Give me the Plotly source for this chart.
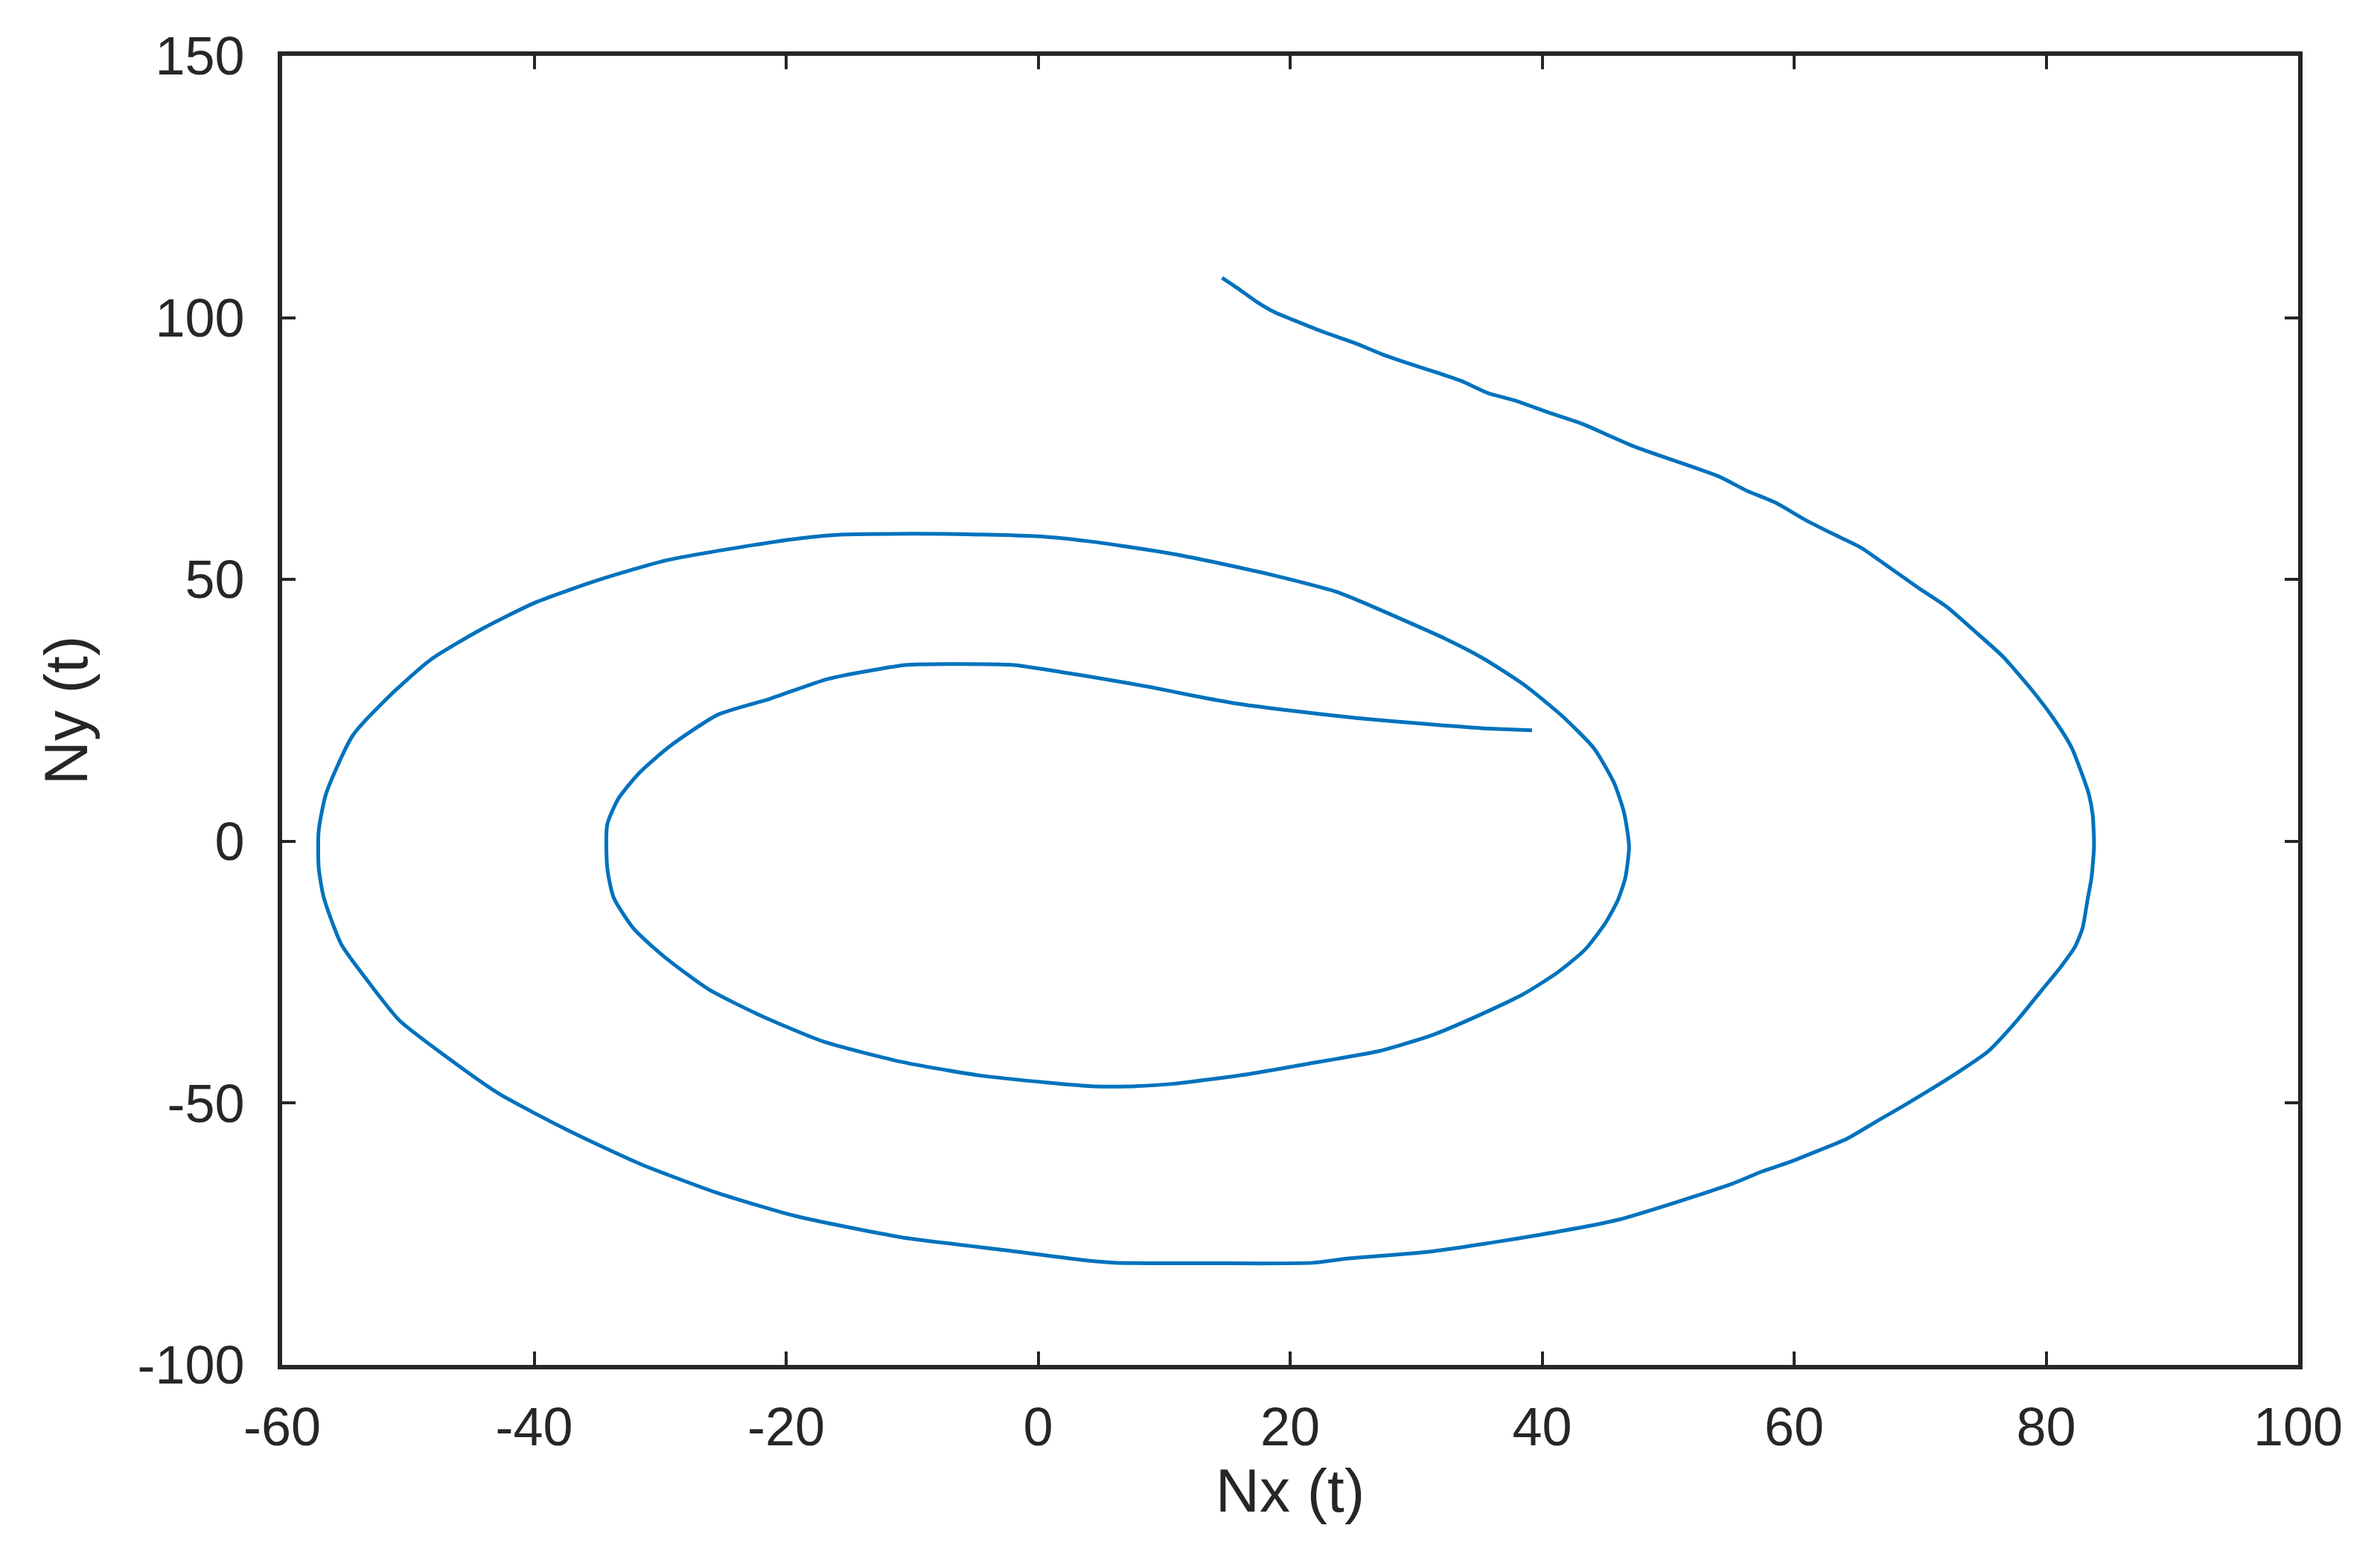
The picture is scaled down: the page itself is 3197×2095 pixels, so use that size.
import plotly.graph_objects as go

# Trajectory points (Nx(t), Ny(t)), in drawing order
nx = [14.6, 15.9, 17.3, 18.8, 20.2, 22.5, 25.2, 27.3, 29.1, 31.8, 33.6, 35.7, 37.8, 40.5, 43.1, 47.3,
      54.0, 56.2, 58.5, 60.8, 63.0, 65.3, 67.5, 69.8, 72.1, 74.3, 76.6, 78.9, 80.6, 82.0, 82.9, 83.4,
      83.7, 83.8, 83.6, 83.3, 82.9, 82.3, 81.1, 79.7, 77.7, 75.4, 73.2, 70.9, 68.7, 66.4, 64.2, 61.9,
      59.6, 57.4, 55.1, 46.0, 39.2, 31.3, 24.5, 21.8, 14.0, 6.3, 4.0,
      -2.6, -10.9, -19.2, -25.4, -31.6, -37.4, -42.8, -47.0, -50.7, -53.2, -55.3, -56.7, -57.1, -57.1,
      -56.5, -54.4, -51.5, -48.2, -44.1, -39.9, -34.9, -29.6, -23.3, -18.8, -15.4, -7.5, 0.3, 4.0,
      6.7, 10.4, 13.8, 17.8, 20.2, 23.6, 25.2, 32.3, 35.2, 38.5, 41.6, 44.1, 45.7, 46.5, 46.9, 46.6,
      46.0, 45.0, 43.4, 41.2, 38.5, 35.2, 31.4, 27.0, 22.1, 16.6, 10.8, 7.3, 4.5, 0.8, -4.7, -10.9,
      -17.1, -22.1, -26.2, -29.6, -32.1, -33.7, -34.2, -34.2, -33.3, -31.6, -29.2, -25.4, -21.3, -16.7,
      -12.6, -10.3, -2.2, 1.9, 5.7, 9.0, 12.3, 15.5, 19.9, 25.4, 30.8, 35.2, 39.2]
ny = [107.6, 105.5, 103.1, 101.0, 99.6, 97.4, 95.1, 93.0, 91.5, 89.4, 87.9, 85.6, 84.2, 81.9, 79.8, 75.4,
      69.7, 67.0, 64.7, 61.5, 58.8, 56.1, 52.4, 48.5, 44.8, 40.2, 35.2, 28.8, 23.4, 18.0, 12.5, 8.9,
      5.0, -1.0, -7.0, -11.0, -16.5, -20.1, -24.2, -28.3, -34.2, -40.1, -43.8, -47.3, -50.5, -53.7, -56.8, -59.1,
      -61.3, -63.1, -65.4, -72.3, -75.4, -78.3, -79.7, -80.5, -80.6, -80.5, -80.1,
      -78.1, -75.6, -71.6, -67.2, -61.6, -55.1, -48.2, -41.1, -34.2, -26.7, -19.7, -10.7, -5.0, 2.0,
      9.2, 20.2, 27.7, 34.7, 40.6, 45.6, 49.9, 53.6, 56.3, 57.9, 58.6, 58.7, 58.2, 57.3,
      56.4, 55.0, 53.4, 51.3, 49.9, 47.7, 46.2, 38.7, 35.1, 30.0, 23.9, 17.8, 11.2, 5.5, -1.0, -7.0,
      -11.3, -15.7, -20.7, -25.1, -29.2, -33.0, -36.9, -40.1, -42.2, -44.5, -46.3, -46.8, -46.8, -46.1, -44.7, -42.1,
      -38.2, -33.2, -28.2, -22.2, -16.7, -10.7, -5.0, 3.2, 8.2, 13.2, 18.2, 24.2, 27.2, 31.0,
      32.9, 33.7, 33.7, 32.3, 30.8, 29.4, 27.8, 26.4, 25.0, 23.5, 22.4, 21.6, 21.2]

x_ticks = [-60, -40, -20, 0, 20, 40, 60, 80, 100]
y_ticks = [-100, -50, 0, 50, 100, 150]

FONT = "Liberation Sans, Arial, Helvetica, sans-serif"
TXT = "#262626"

fig = go.Figure()
fig.add_trace(go.Scatter(x=nx, y=ny, mode="lines",
                         line=dict(color="#0072BD", width=5, shape="spline", smoothing=0.6),
                         showlegend=False, hoverinfo="skip"))

axis_common = dict(
    showgrid=False, zeroline=False, showline=True, linecolor=TXT, linewidth=6,
    mirror="ticks", ticks="inside", ticklen=18, tickwidth=4, tickcolor=TXT,
    tickfont=dict(family=FONT, size=72, color=TXT),
)

fig.update_layout(
    width=3197, height=2095,
    margin=dict(l=371, r=118, t=67, b=270),
    paper_bgcolor="white", plot_bgcolor="white",
    xaxis=dict(range=[-60, 100], tickvals=x_ticks, ticktext=[str(v) for v in x_ticks],
               ticklabelstandoff=16,
               title=dict(text="Nx (t)", standoff=14,
                          font=dict(family=FONT, size=82, color=TXT)),
               **axis_common),
    yaxis=dict(range=[-100, 150], tickvals=y_ticks, ticktext=[str(v) for v in y_ticks],
               ticklabelstandoff=30,
               title=dict(text="Ny (t)", standoff=42,
                          font=dict(family=FONT, size=82, color=TXT)),
               **axis_common),
)

fig.write_html("out.html")
